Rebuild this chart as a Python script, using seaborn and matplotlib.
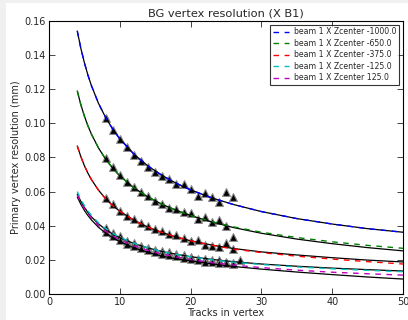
import pandas as pd
import seaborn as sns
import matplotlib.pyplot as plt
from matplotlib.patches import Rectangle

curve_x = [4, 4.5, 5, 5.5, 6, 7, 8, 9, 10, 12, 14, 16, 18, 20, 23, 26, 30, 35, 40, 45, 50]

# dashed (coloured) curves
blue_curve = [0.1540, 0.1439, 0.1355, 0.1282, 0.1220, 0.1116, 0.1034, 0.0966, 0.0909, 0.0819, 0.0749,
              0.0694, 0.0648, 0.0610, 0.0563, 0.0525, 0.0483, 0.0442, 0.0410, 0.0383, 0.0362]
green_curve = [0.1189, 0.1109, 0.1042, 0.0985, 0.0936, 0.0855, 0.0790, 0.0737, 0.0692, 0.0622, 0.0568,
               0.0525, 0.0490, 0.0460, 0.0424, 0.0394, 0.0362, 0.0331, 0.0306, 0.0285, 0.0268]
red_curve = [0.0867, 0.0805, 0.0752, 0.0708, 0.0670, 0.0608, 0.0558, 0.0518, 0.0485, 0.0432, 0.0391,
             0.0360, 0.0334, 0.0312, 0.0286, 0.0264, 0.0243, 0.0222, 0.0205, 0.0190, 0.0176]
cyan_curve = [0.0600, 0.0555, 0.0518, 0.0487, 0.0460, 0.0417, 0.0383, 0.0355, 0.0333, 0.0297, 0.0270,
              0.0249, 0.0232, 0.0218, 0.0201, 0.0187, 0.0173, 0.0159, 0.0148, 0.0139, 0.0131]
magenta_curve = [0.0580, 0.0537, 0.0501, 0.0471, 0.0445, 0.0402, 0.0368, 0.0341, 0.0318, 0.0282, 0.0255,
                 0.0234, 0.0217, 0.0202, 0.0184, 0.0170, 0.0155, 0.0140, 0.0128, 0.0119, 0.0111]

# solid black fits
blue_fit = blue_curve
green_fit = [0.1189, 0.1109, 0.1042, 0.0985, 0.0936, 0.0855, 0.0790, 0.0737, 0.0692, 0.0622, 0.0568,
             0.0525, 0.0490, 0.0460, 0.0422, 0.0390, 0.0356, 0.0322, 0.0295, 0.0272, 0.0253]
red_fit = [0.0867, 0.0805, 0.0752, 0.0708, 0.0670, 0.0608, 0.0558, 0.0518, 0.0485, 0.0432, 0.0391,
           0.0360, 0.0334, 0.0312, 0.0287, 0.0267, 0.0247, 0.0229, 0.0213, 0.0199, 0.0188]
cyan_fit = [0.0585, 0.0543, 0.0508, 0.0478, 0.0452, 0.0411, 0.0378, 0.0351, 0.0330, 0.0296, 0.0270,
            0.0249, 0.0233, 0.0219, 0.0203, 0.0190, 0.0176, 0.0163, 0.0152, 0.0143, 0.0135]
magenta_fit = [0.0568, 0.0526, 0.0490, 0.0460, 0.0434, 0.0391, 0.0357, 0.0330, 0.0307, 0.0271, 0.0244,
               0.0222, 0.0206, 0.0195, 0.0177, 0.0162, 0.0146, 0.0129, 0.0114, 0.0100, 0.0088]

# measured points
blue_px = [8, 9, 10, 11, 12, 13, 14, 15, 16, 17, 18, 19, 20, 21, 22, 23, 24, 25, 26]
blue_py = [0.1029, 0.0960, 0.0906, 0.0859, 0.0814, 0.0778, 0.0745, 0.0716, 0.0693, 0.0671,
           0.0642, 0.0642, 0.0613, 0.0574, 0.0589, 0.0566, 0.0537, 0.0595, 0.0566]
green_px = [8, 9, 10, 11, 12, 13, 14, 15, 16, 17, 18, 19, 20, 21, 22, 23, 24, 25, 26]
green_py = [0.0794, 0.0742, 0.0697, 0.0658, 0.0625, 0.0595, 0.0574, 0.0546, 0.0525, 0.0505,
            0.0498, 0.0478, 0.0472, 0.0439, 0.0449, 0.0423, 0.0433, 0.0400, 0.0335]
red_px = [8, 9, 10, 11, 12, 13, 14, 15, 16, 17, 18, 19, 20, 21, 22, 23, 24, 25, 26]
red_py = [0.0560, 0.0525, 0.0488, 0.0458, 0.0437, 0.0414, 0.0398, 0.0381, 0.0369, 0.0351,
          0.0345, 0.0326, 0.0310, 0.0316, 0.0287, 0.0283, 0.0277, 0.0297, 0.0265]
cyan_px = [8, 9, 10, 11, 12, 13, 14, 15, 16, 17, 18, 19, 20, 21, 22, 23, 24, 25, 26, 27]
cyan_py = [0.0384, 0.0356, 0.0338, 0.0312, 0.0297, 0.0283, 0.0272, 0.0260, 0.0251, 0.0244,
           0.0236, 0.0226, 0.0218, 0.0208, 0.0203, 0.0200, 0.0200, 0.0190, 0.0182, 0.0199]
magenta_px = [8, 9, 10, 11, 12, 13, 14, 15, 16, 17, 18, 19, 20, 21, 22, 23, 24, 25, 26]
magenta_py = [0.0364, 0.0340, 0.0318, 0.0295, 0.0282, 0.0270, 0.0256, 0.0245, 0.0236, 0.0230,
              0.0222, 0.0210, 0.0204, 0.0199, 0.0190, 0.0187, 0.0182, 0.0180, 0.0175]

labels = ['beam 1 X Zcenter -1000.0', 'beam 1 X Zcenter -650.0', 'beam 1 X Zcenter -375.0',
          'beam 1 X Zcenter -125.0', 'beam 1 X Zcenter 125.0']
colors = ['#0000ff', '#008000', '#ff0000', '#00bfbf', '#bf00bf']

curves = [blue_curve, green_curve, red_curve, cyan_curve, magenta_curve]
fits = [blue_fit, green_fit, red_fit, cyan_fit, magenta_fit]
points = [(blue_px, blue_py), (green_px, green_py), (red_px, red_py),
          (cyan_px, cyan_py), (magenta_px, magenta_py)]

sns.set_style('white')
plt.rcParams['font.family'] = ['DejaVu Sans']
plt.rcParams['xtick.direction'] = 'in'
plt.rcParams['ytick.direction'] = 'in'

fig = plt.figure(figsize=(4.08, 3.2), dpi=100)
fig.patch.set_facecolor('#f0f0f0')
# white page area, light grey frame on the left/top like the screenshot
fig.add_artist(Rectangle((6 / 408, 0), 1, 1 - 3 / 320, transform=fig.transFigure,
                         facecolor='white', edgecolor='none', zorder=-5))
ax = fig.add_axes([0.120, 0.081, 0.868, 0.854])
ax.set_zorder(1)

for (px, py) in points:
    sns.scatterplot(x=px, y=py, ax=ax, marker='^', color='black', edgecolor='0.55',
                    linewidth=0.8, s=32, zorder=2, legend=False)

for fit in fits:
    sns.lineplot(x=curve_x, y=fit, ax=ax, color='black', linewidth=0.9, zorder=3, legend=False)

for curve, col, lab in zip(curves, colors, labels):
    sns.lineplot(x=curve_x, y=curve, ax=ax, color=col, linewidth=1.0,
                 linestyle=(0, (4, 4)), label=lab, zorder=4)

ax.set_xlim(0, 50)
ax.set_ylim(0, 0.16)
ax.set_xticks([0, 10, 20, 30, 40, 50])
ax.set_yticks([0.00, 0.02, 0.04, 0.06, 0.08, 0.10, 0.12, 0.14, 0.16])
ax.set_yticklabels([f'{v:.2f}' for v in ax.get_yticks()])
ax.tick_params(axis='both', labelsize=7, length=4, width=0.6, top=True, right=True,
               bottom=True, left=True, pad=2)
for sp in ax.spines.values():
    sp.set_linewidth(0.8)
    sp.set_color('black')

ax.set_title('BG vertex resolution (X B1)', fontsize=8.2, pad=3)
ax.set_xlabel('Tracks in vertex', fontsize=7, labelpad=1)
ax.set_ylabel('Primary vertex resolution (mm)', fontsize=7, labelpad=3)

leg = ax.legend(loc='upper right', fontsize=5.6, frameon=True, fancybox=False,
                handlelength=2.0, handletextpad=0.7, borderpad=0.35, labelspacing=0.32,
                borderaxespad=0.5)
leg.get_frame().set_edgecolor('black')
leg.get_frame().set_linewidth(0.8)

fig.savefig('out.png', dpi=100, facecolor=fig.get_facecolor())
